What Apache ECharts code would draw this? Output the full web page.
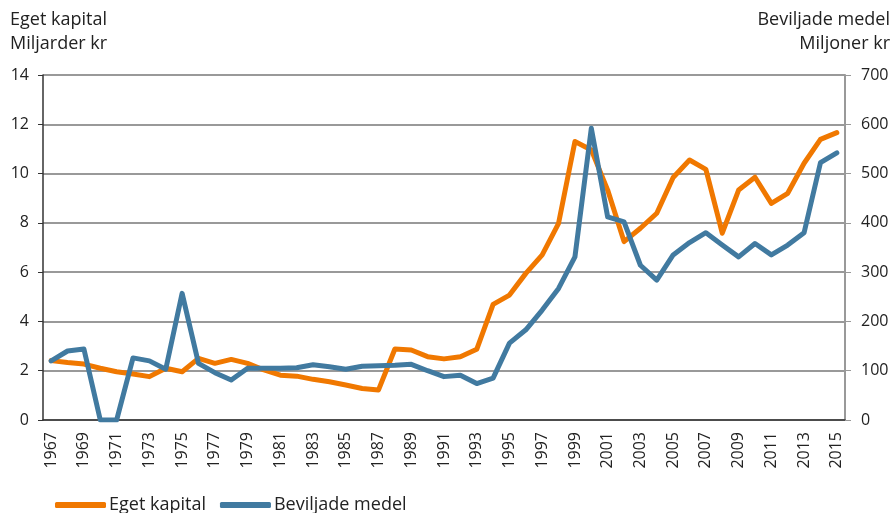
<!DOCTYPE html>
<html>
<head>
<meta charset="utf-8">
<script src="https://cdn.jsdelivr.net/npm/echarts@6/dist/echarts.min.js"></script>
<style>
  html, body { margin: 0; padding: 0; background: #fff; }
  #main { width: 896px; height: 513px; }
</style>
</head>
<body>
<div id="main"></div>
<script>
var years = [];
for (var y = 1967; y <= 2015; y++) years.push(String(y));

// Eget kapital, miljarder kr (vänster axel)
var egetKapital = [
  2.41, 2.33, 2.27, 2.10, 1.96, 1.87, 1.76, 2.10, 1.96, 2.50,
  2.30, 2.46, 2.30, 2.03, 1.82, 1.78, 1.65, 1.55, 1.42, 1.28,
  1.22, 2.88, 2.84, 2.57, 2.48, 2.57, 2.87, 4.69, 5.07, 5.95,
  6.70, 7.98, 11.30, 10.96, 9.33, 7.24, 7.78, 8.39, 9.84, 10.55,
  10.17, 7.58, 9.33, 9.85, 8.79, 9.20, 10.42, 11.39, 11.66
];

// Beviljade medel, miljoner kr (höger axel)
var beviljadeMedel = [
  120, 140, 144, 0, 0, 126, 120, 103, 257, 115,
  96, 81, 105, 105, 105, 106, 112, 108, 103, 109,
  110, 111, 113, 100, 88, 91, 74, 85, 156, 183,
  223, 267, 331, 592, 412, 402, 314, 284, 335, 360,
  380, 355, 331, 358, 335, 355, 380, 522, 542
];

var fontFam = '"Open Sans", sans-serif';
var chart = echarts.init(document.getElementById('main'));

var option = {
  animation: false,
  color: ['#f07800', '#417aa0'],
  textStyle: { fontFamily: fontFam },
  grid: { left: 43, right: 51, top: 75, bottom: 93 },
  graphic: [
    { type: 'text', x: 10, y: 8, style: { text: 'Eget kapital\nMiljarder kr', font: '18px ' + fontFam, fill: '#222', lineHeight: 24 } },
    { type: 'text', x: 890, y: 8, style: { text: 'Beviljade medel\nMiljoner kr', font: '18px ' + fontFam, fill: '#222', lineHeight: 24, align: 'right' } }
  ],
  legend: {
    left: 50,
    top: 491,
    itemWidth: 51,
    itemHeight: 6,
    itemGap: 14,
    icon: 'roundRect',
    textStyle: { fontSize: 18, color: '#222', fontFamily: fontFam, padding: [0, 0, 0, -2] },
    data: ['Eget kapital', 'Beviljade medel']
  },
  xAxis: {
    type: 'category',
    data: years,
    boundaryGap: true,
    axisLine: { lineStyle: { color: '#333', width: 1.5 } },
    axisTick: { show: false },
    axisLabel: {
      rotate: 90,
      interval: 1,
      margin: 12,
      fontSize: 16,
      color: '#222',
      fontFamily: fontFam
    }
  },
  yAxis: [
    {
      type: 'value',
      min: 0,
      max: 14,
      interval: 2,
      axisLine: { show: true, lineStyle: { color: '#333', width: 1.5 } },
      axisTick: { show: true, length: 5, lineStyle: { color: '#333' } },
      axisLabel: { fontSize: 16, color: '#222', margin: 14, fontFamily: fontFam },
      splitLine: { lineStyle: { color: '#777', width: 1.5 } }
    },
    {
      type: 'value',
      min: 0,
      max: 700,
      interval: 100,
      position: 'right',
      axisLine: { show: true, lineStyle: { color: '#999', width: 2 } },
      axisTick: { show: true, length: 6, lineStyle: { color: '#999' } },
      axisLabel: { fontSize: 16, color: '#222', margin: 16, fontFamily: fontFam },
      splitLine: { show: false }
    }
  ],
  series: [
    {
      name: 'Eget kapital',
      type: 'line',
      yAxisIndex: 0,
      data: egetKapital,
      symbol: 'none',
      lineStyle: { width: 5, cap: 'round', join: 'round' }
    },
    {
      name: 'Beviljade medel',
      type: 'line',
      yAxisIndex: 1,
      data: beviljadeMedel,
      symbol: 'none',
      lineStyle: { width: 5, cap: 'round', join: 'round' }
    }
  ]
};

chart.setOption(option);
</script>
</body>
</html>
